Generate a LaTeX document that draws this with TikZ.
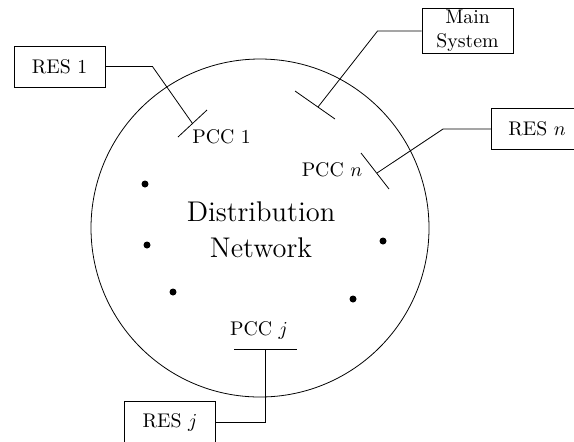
\documentclass[tikz,border=0pt]{standalone}
\usepackage{amsmath}
\usepackage{amssymb}
\usepackage{tikz}
\usetikzlibrary{positioning}

\tikzset{
  resbox/.style={draw, minimum width=1.62cm, minimum height=0.73cm, inner sep=1pt},
  pcclabel/.style={inner sep=0pt},
}

\begin{document}
\begin{tikzpicture}[x=0.01777cm, y=-0.01777cm]
            \useasboundingbox (0,0) rectangle (574,441);
            % distribution network
            \coordinate (c) at (260,228);
            \draw (c) circle (169);
            \node[font=\Large, align=center] (net) at (261,230) {Distribution\\Network};
            \foreach \p in {(145,184),(147,245),(173,292),(353,299),(383,241)}
                \fill \p circle (3.5);

            % sources
            \node[resbox] (res1) at (59.5,66.5) {RES 1};
            \node[resbox, align=center] (mainsys) at (467.5,31) {Main\\System};
            \node[resbox] (resn) at (537,129) {RES \(n\)};
            \node[resbox] (resj) at (170,422) {RES \(j\)};

            % coupling points
            \coordinate (pcc1a) at (178,137);
            \coordinate (pcc1b) at (207,110);
            \coordinate (pcc1) at (192.5,123.5);
            \coordinate (msysa) at (295,91);
            \coordinate (msysb) at (335,119);
            \coordinate (msys) at (318,107);
            \coordinate (pccna) at (361,153);
            \coordinate (pccnb) at (389,189);
            \coordinate (pccn) at (377,173);
            \coordinate (pccja) at (234,349);
            \coordinate (pccjb) at (297,349);
            \coordinate (pccj) at (265.7,349);
            \draw (pcc1a) -- (pcc1b);
            \draw (msysa) -- (msysb);
            \draw (pccna) -- (pccnb);
            \draw (pccja) -- (pccjb);

            \node[pcclabel, anchor=west] (l1) at (192,137) {PCC 1};
            \node[pcclabel] (ln) at (332,170) {PCC \(n\)};
            \node[pcclabel] (lj) at (259,330) {PCC \(j\)};

            % feeders
            \draw (res1.east) -- ++(47,0) -- (pcc1);
            \draw (mainsys.west) -- ++(-44,0) -- (msys);
            \draw (resn.west) -- ++(-48,0) -- (pccn);
            \draw (resj.east) -| (pccj);
        \end{tikzpicture}
\end{document}
